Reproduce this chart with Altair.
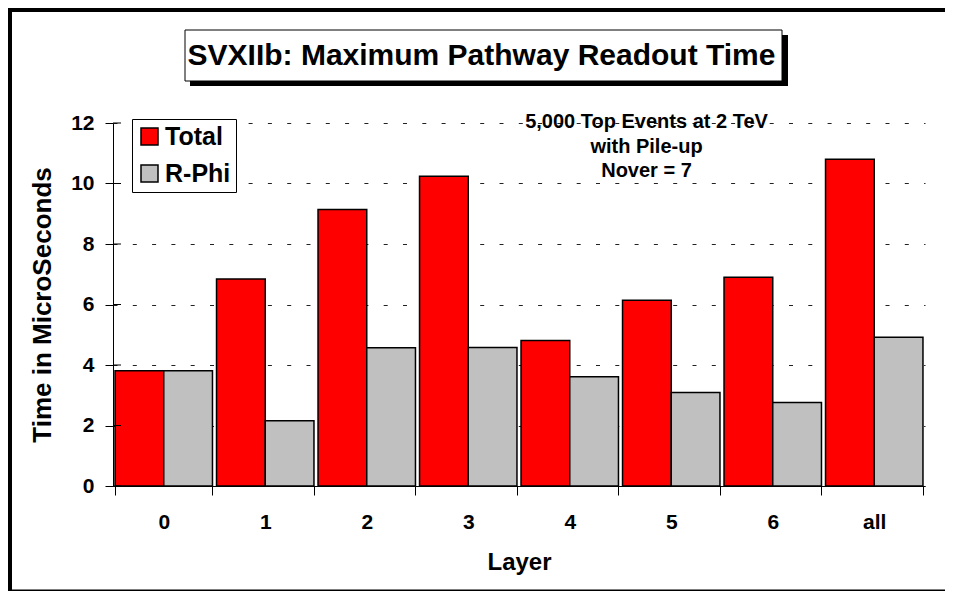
import altair as alt
import pandas as pd

# ---- data ----
layers = ["0", "1", "2", "3", "4", "5", "6", "all"]
total = [3.81, 6.84, 9.14, 10.24, 4.81, 6.14, 6.90, 10.80]
rphi = [3.81, 2.16, 4.57, 4.58, 3.61, 3.09, 2.76, 4.92]
series = ["Total", "R-Phi"]
colors = ["#FF0000", "#C0C0C0"]
y_ticks = [0, 2, 4, 6, 8, 10, 12]
title_text = "SVXIIb: Maximum Pathway Readout Time"
note_lines = ["5,000 Top Events at 2 TeV", "with Pile-up", "Nover = 7"]
x_title = "Layer"
y_title = "Time in MicroSeconds"

FONT = "Liberation Sans"

df = pd.DataFrame({
    "layer": layers * 2,
    "series": [series[0]] * len(layers) + [series[1]] * len(layers),
    "value": total + rphi,
})
tick_df = pd.DataFrame({"value": y_ticks})
one = pd.DataFrame({"d": [0]})

bars = alt.Chart(df).mark_bar(stroke="black", strokeWidth=1.5).encode(
    x=alt.X("layer:N", sort=layers,
            scale=alt.Scale(paddingInner=0.04, paddingOuter=0.02),
            axis=alt.Axis(title=x_title, labelAngle=0, tickBand="extent",
                          tickSize=9, labelPadding=16, labelFontSize=21,
                          titleFontSize=24, titlePadding=18, grid=False)),
    xOffset=alt.XOffset("series:N", sort=series,
                        scale=alt.Scale(domain=series, paddingInner=0, paddingOuter=0)),
    y=alt.Y("value:Q", scale=alt.Scale(domain=[0, 12], nice=False),
            axis=alt.Axis(title=y_title, values=y_ticks, tickSize=8, labelPadding=11,
                          labelFontSize=21, titleFontSize=26, titlePadding=15,
                          grid=True, gridColor="#222222", gridDash=[4, 15.3],
                          gridWidth=1)),
    color=alt.Color("series:N",
                    scale=alt.Scale(domain=series, range=colors),
                    legend=alt.Legend(title=None, orient="none", legendX=19, legendY=-4,
                                      fillColor="white", strokeColor="black",
                                      padding=5, symbolType="square", symbolSize=289,
                                      symbolStrokeColor="black", symbolStrokeWidth=1.5,
                                      labelFont=FONT, labelFontSize=25,
                                      labelFontWeight="bold", labelColor="black",
                                      labelOffset=3, rowPadding=11)),
)

inner_ticks = alt.Chart(tick_df).mark_rule(color="black", strokeWidth=1).encode(
    y=alt.Y("value:Q"),
    x=alt.value(0), x2=alt.value(8),
)

# frame (drawn as rules)
frame_top = alt.Chart(one).mark_rule(color="black", strokeWidth=4).encode(
    x=alt.value(-105), x2=alt.value(832), y=alt.value(-113))
frame_left = alt.Chart(one).mark_rule(color="black", strokeWidth=4).encode(
    x=alt.value(-103), y=alt.value(-115), y2=alt.value(468))
frame_bottom = alt.Chart(one).mark_rule(color="black", strokeWidth=1.5).encode(
    x=alt.value(-105), x2=alt.value(832), y=alt.value(467.2))

# title box with shadow
shadow = alt.Chart(one).mark_rect(color="black").encode(
    x=alt.value(77), x2=alt.value(675), y=alt.value(-88), y2=alt.value(-37))
box = alt.Chart(one).mark_rect(fill="white", stroke="black", strokeWidth=1).encode(
    x=alt.value(72), x2=alt.value(669), y=alt.value(-93), y2=alt.value(-42))
title = alt.Chart(one).mark_text(text=title_text, font=FONT, fontSize=30,
                                 fontWeight="bold", color="black",
                                 align="center", baseline="middle").encode(
    x=alt.value(368.5), y=alt.value(-67))

note = alt.Chart(one).mark_text(text=note_lines, font=FONT, fontSize=20,
                                fontWeight="bold", color="black", align="center",
                                baseline="middle", lineHeight=24.5).encode(
    x=alt.value(533.5), y=alt.value(-1))

chart = alt.layer(
    frame_top, frame_left, frame_bottom, shadow, box, title,
    bars, inner_ticks, note
).properties(
    width=812, height=363,
    padding={"left": 105, "top": 115, "right": 20, "bottom": 105},
    autosize=alt.AutoSizeParams(type="none"),
    background="white",
).configure_view(stroke=None).configure_axis(
    labelFont=FONT, labelFontWeight="bold", labelColor="black",
    titleFont=FONT, titleFontWeight="bold", titleColor="black",
    domainColor="black", domainWidth=1, tickColor="black", tickWidth=1,
)

chart.save("out.html", embed_options={"renderer": "svg", "actions": False})
